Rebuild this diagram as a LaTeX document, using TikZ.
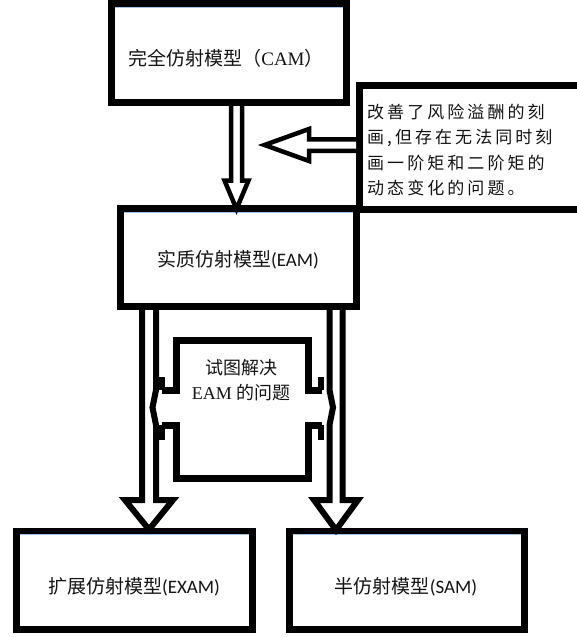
\documentclass[tikz,border=0pt]{standalone}
\usepackage{fontspec}
\setmainfont{Liberation Serif}
\newfontfamily\cjk{Noto Sans CJK SC}
\newfontfamily\cjksp[LetterSpace=18]{Noto Sans CJK SC}
\newfontfamily\calib{Carlito}
\definecolor{topblue}{HTML}{9DC3E6}
\begin{document}
\begin{tikzpicture}[x=1pt,y=-1pt,
  box/.style={draw=black, fill=white, line width=7pt, rectangle, inner sep=0pt},
  blueedge/.style={draw=topblue, line width=1.2pt},
  thinarrow/.style={draw=black, line width=4.5pt, line join=miter, miter limit=20},
  widearrow/.style={draw=black, line width=6pt, line join=miter, miter limit=20},
  label/.style={inner sep=0pt, text=black!92}]
\useasboundingbox (0,0) rectangle (576,637);
\fill[white] (0,0) rectangle (576,637);

% boxes
\node[box, minimum width=235pt, minimum height=99pt] (cam) at (229,53) {};
\node[box, minimum width=240pt, minimum height=124.5pt] (note) at (479.5,147.25) {};
\node[box, minimum width=236pt, minimum height=98pt] (eam) at (238.5,257.5) {};
\node[box, minimum width=236.5pt, minimum height=98pt] (exam) at (134.25,580) {};
\node[box, minimum width=235pt, minimum height=98pt] (sam) at (407,580) {};

% light blue inner top edges
\draw[blueedge] (115,7.6) -- (343,7.6);
\draw[blueedge] (124,212.6) -- (353,212.6);
\draw[blueedge] (19.5,534.6) -- (249,534.6);
\draw[blueedge] (293,534.6) -- (521,534.6);

% middle box with side arms
\fill[white] (176.5,340) rectangle (308.5,478.5);
\draw[black, line width=7pt, line join=miter]
  (162,390) -- (176.5,390) -- (176.5,340) -- (308.5,340) -- (308.5,390) -- (322,390);
\draw[black, line width=7pt, line join=miter]
  (162,425) -- (176.5,425) -- (176.5,478.5) -- (308.5,478.5) -- (308.5,425) -- (322,425);
\draw[black, line width=6pt] (162,377) -- (162,390) (162,425) -- (162,440);
\draw[black, line width=6pt] (320.5,377) -- (320.5,390) (320.5,425) -- (320.5,440);

% arrow CAM -> EAM
\coordinate (a1) at (236.5,102.5);
\fill[white] (231,106) -- (231,180.5) -- (224.5,180.5) -- (236.5,209) -- (248.5,180.5) -- (242,180.5) -- (242,106) -- cycle;
\draw[thinarrow] (231,102.5) -- (231,180.5) -- (224.5,180.5) -- (236.5,209) -- (248.5,180.5) -- (242,180.5) -- (242,102.5);

% arrow from note (left pointing)
\fill[white] (356,139.25) -- (309,139.25) -- (309,129) -- (264.5,145) -- (309,161) -- (309,150.75) -- (356,150.75) -- cycle;
\draw[thinarrow] (359.5,139.25) -- (309,139.25) -- (309,129) -- (264.5,145) -- (309,161) -- (309,150.75) -- (359.5,150.75);

% arrow EAM -> EXAM
\fill[white] (142,310) -- (142,500) -- (125,500) -- (149,529.5) -- (173,500) -- (156,500) -- (156,310) -- cycle;
\draw[widearrow] (142,306.5) -- (142,500) -- (125,500) -- (149,529.5) -- (173,500) -- (156,500)
  -- (156,425) -- (152.5,407.5) -- (156,390) -- (156,306.5);

% arrow EAM -> SAM
\fill[white] (329.5,310) -- (329.5,500) -- (314,500) -- (336,530) -- (358,500) -- (342.5,500) -- (342.5,310) -- cycle;
\draw[widearrow] (329.5,306.5) -- (329.5,390) -- (333,407.5) -- (329.5,425) -- (329.5,500) -- (314,500) -- (336,530) -- (358,500) -- (342.5,500) -- (342.5,306.5);

% labels
\node[label, font=\cjk\fontsize{19}{22}\selectfont] (camt) at (226,58) {完全仿射模型（{\rmfamily CAM}）};
\node[label, font=\cjk\fontsize{19}{22}\selectfont] (eamt) at (238,260) {实质仿射模型{\calib (EAM)}};
\node[label, font=\cjk\fontsize{19}{22}\selectfont] (examt) at (134,587) {扩展仿射模型{\calib (EXAM)}};
\node[label, font=\cjk\fontsize{19}{22}\selectfont] (samt) at (406,587) {半仿射模型{\calib (SAM)}};
\node[label, anchor=west, align=left, font=\cjksp\fontsize{17}{25.2}\selectfont] (notet) at (367,150)
  {改善了风险溢酬的刻\\画,但存在无法同时刻\\画一阶矩和二阶矩的\\动态变化的问题。};
\node[label, align=center, font=\cjk\fontsize{18}{25}\selectfont] (midt) at (241,380)
  {试图解决\\{\rmfamily EAM} 的问题};
\end{tikzpicture}
\end{document}
